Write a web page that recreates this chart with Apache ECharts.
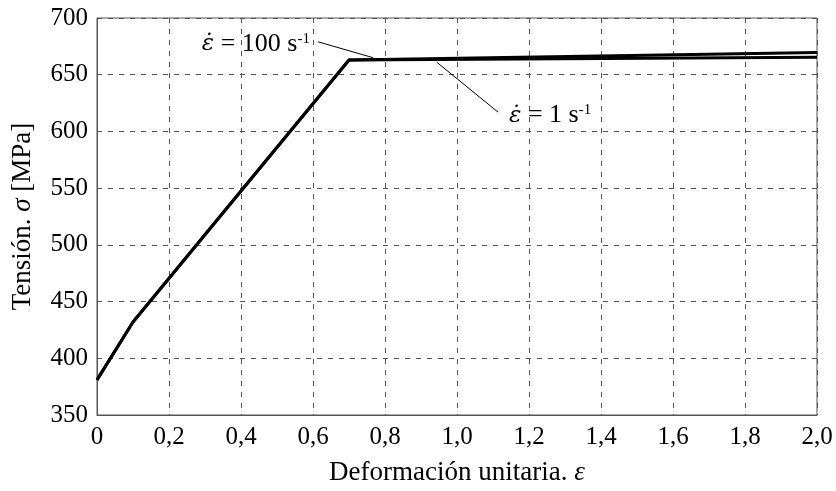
<!DOCTYPE html>
<html>
<head>
<meta charset="utf-8">
<script src="https://cdn.jsdelivr.net/npm/echarts@6/dist/echarts.min.js"></script>
<style>
  html, body { margin: 0; padding: 0; background: #fff; }
  #chart { width: 836px; height: 491px; }
</style>
</head>
<body>
<div id="chart"></div>
<script>
// datos
var rate100 = [[0, 381], [0.1, 432], [0.7, 663], [2.0, 669.5]];
var rate1 = [[0, 381], [0.1, 432], [0.7, 663], [2.0, 665.5]];
var xMin = 0, xMax = 2.0, xStep = 0.2;
var yMin = 350, yMax = 700, yStep = 50;
// anotaciones (coordenadas de datos)
var label100At = [0.597, 677];
var label1At = [1.139, 614];
var leader100 = [[0.614, 679], [0.767, 665]];
var leader1 = [[0.944, 661], [1.114, 617]];

var font = 'Liberation Serif, Times New Roman, serif';
var chart = echarts.init(document.getElementById('chart'));

var rich = {
    e: { fontFamily: 'DejaVu Serif', fontSize: 23, fontStyle: 'italic', color: '#000' },
    t: { fontFamily: font, fontSize: 26, color: '#000' },
    s: { fontFamily: font, fontSize: 15, color: '#000', padding: [0, 0, 10, 0] }
};
var gridDash = { color: '#555', type: [5, 6], width: 1 };

var option = {
    animation: false,
    backgroundColor: '#fff',
    grid: {
        left: 97, right: 19, top: 18, bottom: 75,
        show: true, borderColor: '#555', borderWidth: 1
    },
    xAxis: {
        type: 'value', min: xMin, max: xMax, interval: xStep,
        name: 'Deformación unitaria. {e|ε}',
        nameLocation: 'middle', nameGap: 44,
        nameTextStyle: {
            fontFamily: font, fontSize: 27, color: '#000',
            rich: { e: { fontFamily: font, fontSize: 27, fontStyle: 'italic', color: '#000' } }
        },
        axisLine: { show: true, lineStyle: { color: '#555', width: 1 } },
        axisTick: { show: false },
        axisLabel: {
            fontFamily: font, fontSize: 25, color: '#000', margin: 10,
            formatter: function (v) { return v === 0 ? '0' : v.toFixed(1).replace('.', ','); }
        },
        splitLine: { show: true, lineStyle: gridDash }
    },
    yAxis: {
        type: 'value', min: yMin, max: yMax, interval: yStep,
        name: 'Tensión. {e|σ} [MPa]',
        nameLocation: 'middle', nameGap: 61,
        nameTextStyle: {
            fontFamily: font, fontSize: 27, color: '#000',
            rich: { e: { fontFamily: font, fontSize: 27, fontStyle: 'italic', color: '#000' } }
        },
        axisLine: { show: true, lineStyle: { color: '#555', width: 1 } },
        axisTick: { show: false },
        axisLabel: { fontFamily: font, fontSize: 25, color: '#000', margin: 9 },
        splitLine: { show: true, lineStyle: gridDash }
    },
    series: [
        {
            name: '100 s-1', type: 'line', data: rate100,
            symbol: 'none', lineStyle: { color: '#000', width: 3 },
            markLine: {
                silent: true, symbol: 'none',
                lineStyle: { color: '#000', width: 1, type: 'solid' },
                label: { show: false },
                data: [[{ coord: leader100[0] }, { coord: leader100[1] }]]
            },
            markPoint: {
                silent: true, symbol: 'circle', symbolSize: 0,
                data: [{ coord: label100At }],
                label: {
                    show: true, position: 'left', distance: 2,
                    formatter: '{e|ε\u0307}{t| = 100 s}{s|-1}', rich: rich
                }
            }
        },
        {
            name: '1 s-1', type: 'line', data: rate1,
            symbol: 'none', lineStyle: { color: '#000', width: 3 },
            markLine: {
                silent: true, symbol: 'none',
                lineStyle: { color: '#000', width: 1, type: 'solid' },
                label: { show: false },
                data: [[{ coord: leader1[0] }, { coord: leader1[1] }]]
            },
            markPoint: {
                silent: true, symbol: 'circle', symbolSize: 0,
                data: [{ coord: label1At }],
                label: {
                    show: true, position: 'right', distance: 2,
                    formatter: '{e|ε\u0307}{t| = 1 s}{s|-1}', rich: rich
                }
            }
        }
    ]
};
chart.setOption(option);
</script>
</body>
</html>
